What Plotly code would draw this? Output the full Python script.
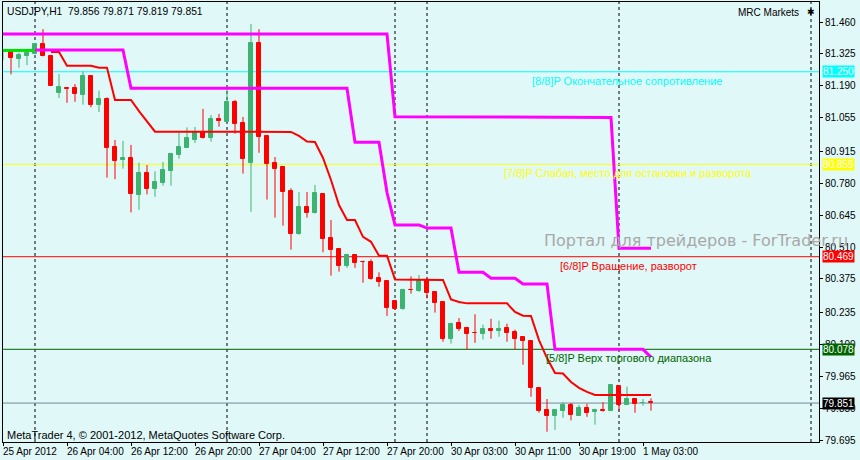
import plotly.graph_objects as go

# ---------------- data ----------------
bar_index = list(range(82))

opens = [
    81.333, 81.333, 81.305, 81.318, 81.326, 81.367, 81.316, 81.161, 81.180, 81.180,
    81.152, 81.232, 81.111, 81.135, 80.932, 80.876, 80.887, 80.731, 80.822, 80.756,
    80.780, 80.832, 80.900, 80.929, 80.963, 80.997, 80.971, 81.050, 81.039, 81.122,
    81.034, 80.866, 81.371, 80.979, 80.863, 80.848, 80.746, 80.566, 80.679, 80.655,
    80.735, 80.547, 80.502, 80.431, 80.475, 80.448, 80.445, 80.379, 80.366, 80.281,
    80.249, 80.330, 80.325, 80.372, 80.321, 80.278, 80.120, 80.189, 80.169, 80.147,
    80.144, 80.164, 80.154, 80.169, 80.151, 80.130, 80.113, 79.916, 79.822, 79.798,
    79.819, 79.843, 79.798, 79.830, 79.815, 79.820, 79.819, 79.924, 79.844, 79.868,
    79.850, 79.856]
highs = [
    81.346, 81.338, 81.330, 81.342, 81.371, 81.430, 81.321, 81.240, 81.181, 81.198,
    81.252, 81.232, 81.170, 81.142, 80.962, 80.958, 80.941, 80.866, 80.856, 80.830,
    80.869, 80.908, 80.993, 81.015, 81.017, 81.093, 81.067, 81.072, 81.187, 81.131,
    81.059, 81.452, 81.430, 80.983, 80.890, 80.852, 80.758, 80.742, 80.742, 80.772,
    80.738, 80.624, 80.506, 80.479, 80.479, 80.452, 80.458, 80.403, 80.371, 80.286,
    80.334, 80.386, 80.392, 80.380, 80.324, 80.280, 80.190, 80.210, 80.173, 80.226,
    80.182, 80.207, 80.199, 80.186, 80.161, 80.132, 80.113, 79.919, 79.868, 79.824,
    79.855, 79.851, 79.843, 79.848, 79.827, 79.855, 79.927, 79.924, 79.920, 79.868,
    79.868, 79.871]
lows = [
    81.300, 81.239, 81.267, 81.278, 81.325, 81.315, 81.190, 81.139, 81.119, 81.123,
    81.111, 81.100, 81.080, 80.803, 80.796, 80.841, 80.656, 80.667, 80.732, 80.722,
    80.769, 80.769, 80.883, 80.928, 80.949, 80.968, 80.955, 81.018, 81.038, 80.988,
    80.820, 80.659, 80.908, 80.710, 80.634, 80.600, 80.499, 80.562, 80.634, 80.651,
    80.488, 80.389, 80.406, 80.422, 80.422, 80.359, 80.372, 80.342, 80.219, 80.244,
    80.245, 80.313, 80.321, 80.293, 80.233, 80.110, 80.102, 80.155, 80.076, 80.105,
    80.119, 80.123, 80.131, 80.110, 80.076, 80.013, 79.878, 79.810, 79.730, 79.738,
    79.789, 79.778, 79.796, 79.793, 79.760, 79.815, 79.817, 79.819, 79.843, 79.810,
    79.840, 79.819]
closes = [
    81.342, 81.309, 81.319, 81.329, 81.367, 81.318, 81.191, 81.186, 81.177, 81.157,
    81.232, 81.111, 81.135, 80.929, 80.874, 80.887, 80.732, 80.822, 80.756, 80.784,
    80.834, 80.903, 80.932, 80.970, 80.997, 80.970, 81.050, 81.043, 81.122, 81.031,
    80.883, 81.371, 80.976, 80.862, 80.841, 80.743, 80.566, 80.679, 80.655, 80.738,
    80.545, 80.499, 80.431, 80.475, 80.444, 80.446, 80.375, 80.363, 80.254, 80.249,
    80.330, 80.327, 80.368, 80.317, 80.275, 80.120, 80.185, 80.165, 80.144, 80.145,
    80.164, 80.154, 80.164, 80.148, 80.123, 80.112, 79.916, 79.817, 79.798, 79.822,
    79.843, 79.802, 79.831, 79.809, 79.822, 79.817, 79.927, 79.844, 79.868, 79.848,
    79.853, 79.851]

# red trailing line
trail = ([None] * 6 +
         [81.333, 81.333, 81.275, 81.275, 81.275, 81.275, 81.267, 81.267, 81.131, 81.131,
          81.131, 81.084, 81.038] +
         [80.997] * 17 +
         [80.996, 80.979, 80.955, 80.953, 80.886, 80.793, 80.687, 80.624, 80.624, 80.553,
          80.532, 80.473, 80.473] +
         [80.373] * 6 +
         [80.371, 80.289, 80.278] +
         [80.272] * 6 +
         [80.236, 80.220, 80.219, 80.117, 80.041, 79.978, 79.976, 79.940, 79.915, 79.898] +
         [79.885] * 8)

# magenta stepped lines
mrc_upper = [81.409] * 49 + [81.060] * 4 + [81.057] * 24 + [80.505] * 5
mrc_lower = ([None] * 4 + [81.342] * 12 + [81.180] * 28 + [80.952] * 4 + [80.740] +
             [80.603] * 4 + [80.590] * 4 + [80.403] * 4 + [80.378] * 4 + [80.354] * 4 +
             [80.078] * 12 + [80.045])
green_start = [81.340] * 5 + [None] * 77

x_tick_bars = [0, 8, 16, 24, 32, 40, 48, 56, 64, 72, 80]
x_tick_labels = ["25 Apr 2012", "26 Apr 04:00", "26 Apr 12:00", "26 Apr 20:00",
                 "27 Apr 04:00", "27 Apr 12:00", "27 Apr 20:00", "30 Apr 03:00",
                 "30 Apr 11:00", "30 Apr 19:00", "1 May 03:00"]
separator_bars = [4, 28, 49, 53, 77, 101]
price_ticks = [81.460, 81.325, 81.190, 81.055, 80.915, 80.780, 80.645, 80.510,
               80.375, 80.235, 80.100, 79.965, 79.830, 79.695]

levels = [81.250, 80.859, 80.469, 80.078]
level_names = ["[8/8]P Окончательное сопротивление",
               "[7/8]P Слабая, место для остановки и разворота",
               "[6/8]P Вращение, разворот",
               "[5/8]P Верх торгового диапазона"]
level_label_bars = [65.9, 62.4, 69.4, 67.6]
level_colors = ["#00FFFF", "#FFFF00", "#FF0000", "#006400"]
bid_price = 79.851

# ---------------- styles ----------------
BG = "#E0F8F8"
UP = "#3CB371"
DN = "#FF0000"
FONT = "Liberation Sans"

fig = go.Figure()

for color, cond in ((UP, lambda o, c: c >= o), (DN, lambda o, c: c < o)):
    xs = [i for i in bar_index if cond(opens[i], closes[i])]
    wx, wy = [], []
    for i in xs:
        wx += [i, i, None]
        wy += [lows[i], highs[i], None]
    fig.add_trace(go.Scatter(x=wx, y=wy, mode="lines", line=dict(color=color, width=1),
                             hoverinfo="skip", showlegend=False))
    fig.add_trace(go.Bar(x=xs,
                         y=[abs(closes[i] - opens[i]) for i in xs],
                         base=[min(opens[i], closes[i]) for i in xs],
                         width=0.5,
                         marker=dict(color=color, line=dict(color=color, width=1)),
                         showlegend=False))

fig.add_trace(go.Scatter(x=bar_index, y=trail, mode="lines",
                         line=dict(color="#FF0000", width=2), showlegend=False))
fig.add_trace(go.Scatter(x=bar_index, y=mrc_upper, mode="lines",
                         line=dict(color="#FF00FF", width=3), showlegend=False))
fig.add_trace(go.Scatter(x=bar_index, y=mrc_lower, mode="lines",
                         line=dict(color="#FF00FF", width=3), showlegend=False))
fig.add_trace(go.Scatter(x=bar_index, y=green_start, mode="lines",
                         line=dict(color="#00E000", width=3), showlegend=False))

shapes = []
for b in separator_bars:
    shapes.append(dict(type="line", xref="x", yref="paper", x0=b, x1=b, y0=0, y1=1,
                       line=dict(color="black", width=1, dash="3px,3px"), layer="below"))
for v, c in zip(levels, level_colors):
    shapes.append(dict(type="line", xref="paper", yref="y", x0=0, x1=1, y0=v, y1=v,
                       line=dict(color=c, width=1), layer="below"))
shapes.append(dict(type="line", xref="paper", yref="y", x0=0, x1=1, y0=bid_price,
                   y1=bid_price, line=dict(color="#778899", width=1), layer="below"))

annotations = []
for v, name, b, c in zip(levels, level_names, level_label_bars, level_colors):
    annotations.append(dict(x=b, y=v, xref="x", yref="y", text=name, showarrow=False,
                            xanchor="left", yanchor="top", yshift=-1,
                            font=dict(family=FONT, size=11, color=c)))
for v, c in zip(levels + [bid_price], level_colors + ["#000000"]):
    annotations.append(dict(x=1.004, y=v, xref="paper", yref="y", text=f"{v:.3f}",
                            showarrow=False, xanchor="left", yanchor="middle",
                            bgcolor=c, borderpad=0,
                            font=dict(family=FONT, size=10, color="white")))
for b, t in zip(x_tick_bars, x_tick_labels):
    annotations.append(dict(x=b, y=0, xref="x", yref="paper", text=t, showarrow=False,
                            xanchor="left", yanchor="top", xshift=-2, yshift=-2,
                            font=dict(family=FONT, size=10, color="black")))
annotations += [
    dict(x=0.003, y=0.979, xref="paper", yref="paper", showarrow=False,
         text="USDJPY,H1  79.856 79.871 79.819 79.851", xanchor="left", yanchor="middle",
         font=dict(family=FONT, size=10.3, color="black")),
    dict(x=0.978, y=0.977, xref="paper", yref="paper", showarrow=False,
         text="MRC Markets", xanchor="right", yanchor="middle",
         font=dict(family=FONT, size=10, color="black")),
    dict(x=0.990, y=0.977, xref="paper", yref="paper", showarrow=False,
         text="✱", xanchor="center", yanchor="middle",
         font=dict(family="DejaVu Sans", size=9, color="black")),
    dict(x=0.002, y=0.016, xref="paper", yref="paper", showarrow=False,
         text="MetaTrader 4, © 2001-2012, MetaQuotes Software Corp.",
         xanchor="left", yanchor="middle",
         font=dict(family=FONT, size=11, color="black")),
    dict(x=0.660, y=80.5395, xref="paper", yref="y", showarrow=False,
         text="Портал для трейдеров - ForTrader.ru", xanchor="left", yanchor="middle",
         font=dict(family="DejaVu Sans", size=16, color="#A8A8A8")),
]

fig.update_layout(
    width=860, height=460,
    margin=dict(l=3, r=41, t=2, b=18),
    plot_bgcolor=BG, paper_bgcolor=BG,
    barmode="overlay", bargap=0,
    showlegend=False,
    shapes=shapes, annotations=annotations,
    xaxis=dict(range=[0, 102], showgrid=False, zeroline=False,
               tickvals=x_tick_bars, ticktext=[""] * len(x_tick_bars),
               ticks="outside", ticklen=3, tickcolor="black",
               showline=True, linecolor="black", linewidth=1, mirror=True),
    yaxis=dict(range=[79.6866, 81.5445], side="right", showgrid=False, zeroline=False,
               tickvals=price_ticks, ticktext=[f"{p:.3f}" for p in price_ticks],
               ticks="outside", ticklen=3, tickcolor="black",
               tickfont=dict(family=FONT, size=10, color="black"),
               showline=True, linecolor="black", linewidth=1, mirror=True),
)

fig.write_html("out.html",
               config={"displayModeBar": False},
               post_script="document.body.style.margin='0';"
                           "document.body.style.background='" + BG + "';")
